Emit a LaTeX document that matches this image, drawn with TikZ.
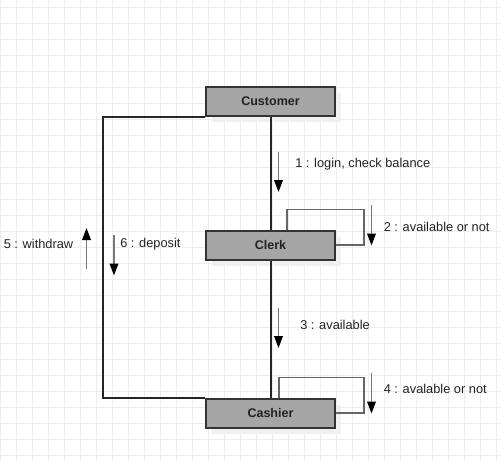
\documentclass[tikz,border=0pt]{standalone}
\usepackage{fontspec}
\setmainfont{Liberation Sans}
\usetikzlibrary{arrows.meta}
\definecolor{gridc}{HTML}{EDEDED}
\definecolor{boxfill}{HTML}{A6A6A6}
\definecolor{boxline}{HTML}{333333}
\definecolor{shaft}{HTML}{777777}
\definecolor{loopc}{HTML}{666666}
\definecolor{shadowc}{HTML}{F0F0F0}
\definecolor{txt}{HTML}{222222}
\tikzset{
  obj/.style={draw=boxline, fill=boxfill, line width=1.5pt, minimum width=96.75pt, minimum height=21.75pt, inner sep=0pt, font=\fontsize{9.4pt}{11pt}\selectfont\bfseries, text=txt},
  shadowbox/.style={fill=shadowc, draw=none, minimum width=96.75pt, minimum height=21.75pt, inner sep=0pt},
  life/.style={draw=black!85, line width=1.5pt},
  selfloop/.style={draw=loopc, line width=1.3pt},
  msg/.style={draw=shaft, line width=1.2pt, -{Triangle[length=9pt,width=6.5pt,color=black]}},
  lbl/.style={anchor=west, inner sep=0pt, font=\fontsize{9.6pt}{11pt}\selectfont, text=txt},
}
\begin{document}
\begin{tikzpicture}[x=0.75pt,y=-0.75pt]
\useasboundingbox (0,0) rectangle (501,461);
\fill[white] (0,0) rectangle (501,461);
% grid
\foreach \gx in {0,16,...,496} \draw[gridc, line width=0.75pt] (\gx,0) -- (\gx,461);
\foreach \gy in {7.5,23.5,...,460} \draw[gridc, line width=0.75pt] (0,\gy) -- (501,\gy);
% shadows
\node[shadowbox] (custsh) at (276.5,107.5) {};
\node[shadowbox] (clerksh) at (276.5,251) {};
\node[shadowbox] (cashsh) at (276.5,419) {};
% objects
\node[obj] (cust) at (270.5,101.5) {Customer};
\node[obj] (clerk) at (270.5,245) {Clerk};
\node[obj] (cash) at (270.5,413) {Cashier};
% links
\draw[life] (cust.south) -- (clerk.north);
\draw[life] (clerk.south) -- (cash.north);
\draw[life] (cust.south west) -- ++(-102,0) |- (cash.north west);
% self loops
\coordinate (l2c) at (364,209.5);
\coordinate (l4c) at (364,377.5);
\draw[selfloop] ([xshift=61.5pt]clerk.north west) |- (l2c) |- (clerk.east);
\draw[selfloop] ([xshift=55.5pt]cash.north west) |- (l4c) |- (cash.east);
% messages
\coordinate (m1a) at (278.5,151.5); \coordinate (m1b) at (278.5,192);
\coordinate (m2a) at (371.5,205); \coordinate (m2b) at (371.5,245.5);
\coordinate (m3a) at (278.5,308); \coordinate (m3b) at (278.5,348);
\coordinate (m4a) at (371.5,373); \coordinate (m4b) at (371.5,413.5);
\coordinate (m5a) at (86.5,268.5); \coordinate (m5b) at (86.5,228);
\coordinate (m6a) at (114,235); \coordinate (m6b) at (114,275.5);
\draw[msg] (m1a) -- (m1b);
\draw[msg] (m2a) -- (m2b);
\draw[msg] (m3a) -- (m3b);
\draw[msg] (m4a) -- (m4b);
\draw[msg] (m5a) -- (m5b);
\draw[msg] (m6a) -- (m6b);
% labels
\node[lbl] (t1) at (295,164.5) {1 : login, check balance};
\node[lbl] (t2) at (383.5,227) {2 : available or not};
\node[lbl] (t3) at (300,324.5) {3 : available};
\node[lbl] (t4) at (383.5,389) {4 : avalable or not};
\node[lbl] (t5) at (3.5,244) {5 : withdraw};
\node[lbl] (t6) at (120,244) {6 : deposit};
\end{tikzpicture}
\end{document}
